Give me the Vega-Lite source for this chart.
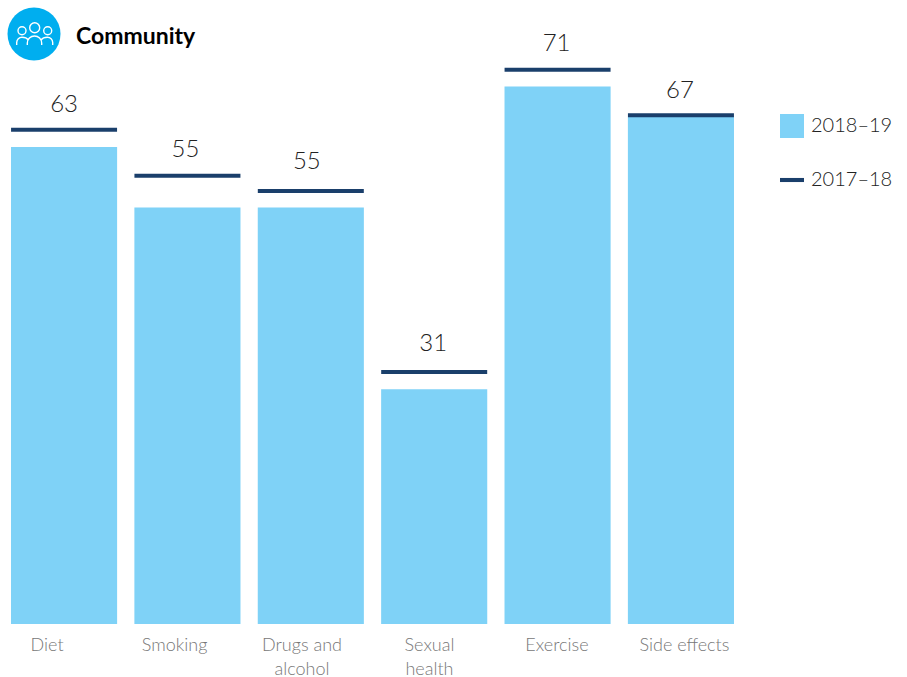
{
  "$schema": "https://vega.github.io/schema/vega-lite/v6.json",
  "width": 741,
  "height": 564,
  "autosize": {"type": "none"},
  "padding": {"left": 2, "top": 60, "right": 164, "bottom": 53},
  "background": "#ffffff",
  "config": {"view": {"stroke": null}, "font": "Lato"},
  "title": {
    "text": "Community",
    "anchor": "start",
    "frame": "group",
    "dx": 74,
    "dy": 56,
    "offset": 15,
    "font": "Lato",
    "fontSize": 23,
    "fontWeight": 700,
    "color": "#000000"
  },
  "data": {
    "values": [
      {"category": "Diet", "2018–19": 63, "2017–18": 65.3},
      {"category": "Smoking", "2018–19": 55, "2017–18": 59.2},
      {"category": "Drugs and alcohol", "2018–19": 55, "2017–18": 57.2},
      {"category": "Sexual health", "2018–19": 31, "2017–18": 33.3},
      {"category": "Exercise", "2018–19": 71, "2017–18": 73.2},
      {"category": "Side effects", "2018–19": 67, "2017–18": 67.2}
    ]
  },
  "encoding": {
    "x": {
      "field": "category",
      "type": "nominal",
      "sort": null,
      "scale": {"paddingInner": 0.14, "paddingOuter": 0.073},
      "axis": {
        "title": null,
        "domain": false,
        "ticks": false,
        "labelAngle": 0,
        "labelAlign": "center",
        "labelBaseline": "top",
        "labelPadding": 12,
        "labelFont": "Lato",
        "labelFontSize": 18,
        "labelFontWeight": 300,
        "labelColor": "#777777",
        "labelLineHeight": 24,
        "labelLimit": 200,
        "labelExpr": "datum.value == 'Drugs and alcohol' ? ['Drugs and', 'alcohol'] : datum.value == 'Sexual health' ? ['Sexual', 'health'] : datum.value",
        "encoding": {"labels": {"dx": {"value": {"signal": "-17 + 20.5 * datum.index"}}}}
      }
    }
  },
  "layer": [
    {
      "transform": [
        {"fold": ["2018–19", "2017–18"], "as": ["season", "share"]},
        {"filter": "datum.season == '2018–19'"}
      ],
      "mark": {"type": "bar"},
      "encoding": {
        "y": {"field": "share", "type": "quantitative", "scale": {"domain": [0, 74.5], "nice": false}, "axis": null},
        "color": {"field": "season", "type": "nominal", "scale": {"domain": ["2018–19", "2017–18"], "range": ["#7FD2F7", "#1A3F6B"]}}
      }
    },
    {
      "transform": [
        {"fold": ["2018–19", "2017–18"], "as": ["season", "share"]},
        {"filter": "datum.season == '2017–18'"}
      ],
      "mark": {"type": "tick", "size": 106, "thickness": 4, "opacity": 1},
      "encoding": {
        "y": {"field": "share", "type": "quantitative"},
        "color": {"field": "season", "type": "nominal"}
      }
    },
    {
      "transform": [
        {"fold": ["2018–19", "2017–18"], "as": ["season", "share"]}
      ],
      "mark": {"type": "point", "filled": true, "size": 0},
      "encoding": {
        "y": {"field": "share", "type": "quantitative"},
        "color": {
          "field": "season",
          "type": "nominal",
          "legend": {
            "title": null,
            "orient": "none",
            "legendX": 778,
            "legendY": 54,
            "symbolSize": 576,
            "symbolStrokeWidth": 0,
            "labelFont": "Lato",
            "labelFontSize": 20,
            "labelFontWeight": 300,
            "labelColor": "#222222",
            "labelOffset": 7,
            "rowPadding": 30,
            "values": ["2018–19", "2017–18"]
          }
        },
        "shape": {
          "field": "season",
          "type": "nominal",
          "scale": {"domain": ["2018–19", "2017–18"], "range": ["square", "M-1,-0.17H1V0.17H-1Z"]},
          "legend": {
            "title": null,
            "orient": "none",
            "legendX": 778,
            "legendY": 54,
            "symbolSize": 576,
            "symbolStrokeWidth": 0,
            "labelFont": "Lato",
            "labelFontSize": 20,
            "labelFontWeight": 300,
            "labelColor": "#222222",
            "labelOffset": 7,
            "rowPadding": 30,
            "values": ["2018–19", "2017–18"]
          }
        }
      }
    },
    {
      "mark": {
        "type": "text",
        "baseline": "middle",
        "align": "center",
        "dx": {"expr": "{'Smoking': -2, 'Drugs and alcohol': -4, 'Sexual health': -1, 'Exercise': -1, 'Side effects': -1}[datum.category] || 0"},
        "dy": {"expr": "{'Diet': -25, 'Smoking': -26, 'Drugs and alcohol': -29, 'Sexual health': -28, 'Exercise': -26, 'Side effects': -24}[datum.category]"},
        "font": "Lato",
        "fontSize": 24,
        "fontWeight": 300,
        "color": "#222222"
      },
      "encoding": {
        "y": {"field": "2017–18", "type": "quantitative"},
        "text": {"field": "2018–19", "type": "quantitative"}
      }
    },
    {
      "data": {"values": [{"badge": "Community"}]},
      "mark": {"type": "point", "shape": "circle", "filled": true, "size": 2809, "color": "#00AEEF", "opacity": 1},
      "encoding": {"x": {"value": 32}, "y": {"value": -26}}
    },
    {
      "data": {"values": [{"badge": "Community"}]},
      "mark": {
        "type": "point",
        "filled": false,
        "size": 4,
        "stroke": "#ffffff",
        "strokeWidth": 1.4,
        "opacity": 1,
        "shape": "M5.7,-6.3A5,5 0 1 1 -4.3,-6.3A5,5 0 1 1 5.7,-6.3ZM-8,-3.3A4,4 0 1 1 -16,-3.3A4,4 0 1 1 -8,-3.3ZM17.7,-3.3A4,4 0 1 1 9.7,-3.3A4,4 0 1 1 17.7,-3.3ZM-6.7,11V9.2A7.2,7.2 0 0 1 7.7,9.2V11M-17.3,11V8.5A5.3,5.3 0 0 1 -12,3.3C-9.5,3.3 -7,4.2 -5.5,6M18.7,11V8.5A5.3,5.3 0 0 0 13.4,3.3C10.9,3.3 8.4,4.2 6.9,6"
      },
      "encoding": {"x": {"value": 32}, "y": {"value": -26}}
    }
  ]
}
